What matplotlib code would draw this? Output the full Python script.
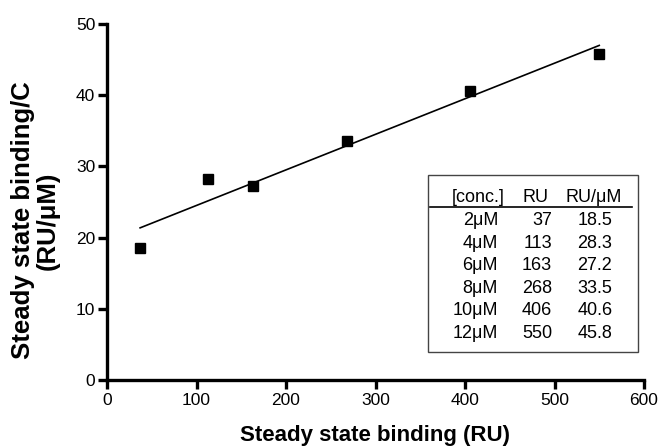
import matplotlib.pyplot as plt
import numpy as np

plt.rcParams['font.family'] = ['Liberation Sans', 'DejaVu Sans']

conc = ['2\u03bcM', '4\u03bcM', '6\u03bcM', '8\u03bcM', '10\u03bcM', '12\u03bcM']
ru = [37, 113, 163, 268, 406, 550]
ru_per_c = [18.5, 28.3, 27.2, 33.5, 40.6, 45.8]

W, H = 661, 447
fig = plt.figure(figsize=(W / 100, H / 100), dpi=100)
ax = fig.add_axes([107 / W, 1 - 380 / H, (644 - 107) / W, (380 - 24) / H])

ax.plot(ru, ru_per_c, 's', color='black', markersize=6.5)

# linear fit over the data range
slope, icpt = np.polyfit(ru, ru_per_c, 1)
xf = np.array([min(ru), max(ru)])
ax.plot(xf, slope * xf + icpt, color='black', lw=1.2)

ax.set_xlim(0, 600)
ax.set_ylim(0, 50)
ax.set_xticks(range(0, 601, 100))
ax.set_yticks(range(0, 51, 10))
for s in ['top', 'right']:
    ax.spines[s].set_visible(False)
for s in ['left', 'bottom']:
    ax.spines[s].set_linewidth(2.4)
ax.tick_params(width=2.4, length=6.5, labelsize=12.5)
ax.tick_params(axis='x', pad=3)
ax.tick_params(axis='y', pad=2)

ax.set_xlabel('Steady state binding (RU)', fontsize=16, fontweight='bold', va='center')
ax.xaxis.set_label_coords(0.5, -0.157)
ax.set_ylabel('Steady state binding/C\n(RU/\u03bcM)', fontsize=18.5,
              fontweight='bold', va='center', linespacing=1.05)
ax.yaxis.set_label_coords(-0.133, 0.448)

# inset table
def fx(px):
    return px / W

def fy(py):
    return 1 - py / H

tf = fig.transFigure
box = plt.Rectangle((fx(428), fy(352)), fx(638) - fx(428), fy(175) - fy(352),
                    transform=tf, fill=False, edgecolor='#444444', lw=1.0)
fig.add_artist(box)
fig.add_artist(plt.Line2D([fx(430), fx(632)], [fy(207), fy(207)],
                          transform=tf, color='black', lw=1.2))

fs = 13
fig.text(fx(478), fy(197), '[conc.]', transform=tf, ha='center', va='center', fontsize=fs)
fig.text(fx(535), fy(197), 'RU', transform=tf, ha='center', va='center', fontsize=fs)
fig.text(fx(594), fy(197), 'RU/\u03bcM', transform=tf, ha='center', va='center', fontsize=fs)
for i in range(len(conc)):
    yy = fy(220.5 + 22.6 * i)
    fig.text(fx(498), yy, conc[i], transform=tf, ha='right', va='center', fontsize=fs)
    fig.text(fx(552), yy, str(ru[i]), transform=tf, ha='right', va='center', fontsize=fs)
    fig.text(fx(595), yy, '%.1f' % ru_per_c[i], transform=tf, ha='center', va='center', fontsize=fs)

fig.savefig('out.png', dpi=100)
